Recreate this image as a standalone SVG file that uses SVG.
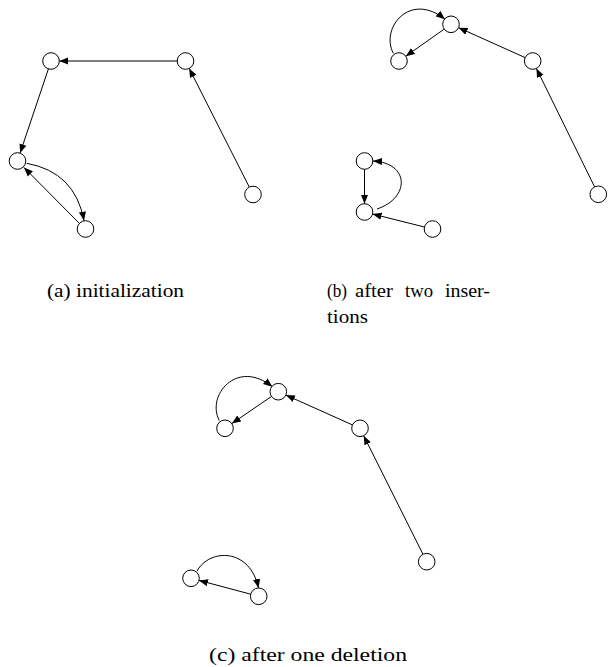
<svg xmlns="http://www.w3.org/2000/svg" width="608" height="667" viewBox="0 0 608 667">
<style>
.node circle{fill:#fff;stroke:#000;stroke-width:1}
.edge{fill:none;stroke:#000;stroke-width:1;marker-end:url(#arr)}
.cap{font-family:"Liberation Serif","Times New Roman",serif;font-size:19px;fill:#000}
</style>
<defs>
<marker id="arr" viewBox="0 0 10 8" refX="10" refY="4" markerWidth="9" markerHeight="8" orient="auto" markerUnits="userSpaceOnUse">
<path d="M0,0 L10,4 L0,8 z" fill="#000"/>
</marker>
</defs>
<rect width="608" height="667" fill="#fff"/>
<g id="connectors">
<!-- panel a -->
<path class="edge" d="M177.2,61 L59.3,61"/>
<path class="edge" d="M48.4,68.9 L20.1,153.1"/>
<path class="edge" d="M249.3,187.1 L189.2,68.4"/>
<path class="edge" d="M79.5,223.5 L24,167.5"/>
<path class="edge" d="M26.7,163.3 Q75,172 84,220.7"/>
<!-- panel b -->
<path class="edge" d="M525.1,57.6 L458.6,27.7"/>
<path class="edge" d="M594.6,186.9 L536.4,68.4"/>
<path class="edge" d="M444.2,29.1 L405.8,56.2"/>
<path class="edge" d="M393.3,53.3 C380,28 410,-9 445,19.3"/>
<path class="edge" d="M364.5,169.3 L364.5,203.7"/>
<path class="edge" d="M377,209 C410,198 410,163 373,161"/>
<path class="edge" d="M424.4,227 L372.6,214"/>
<!-- panel c -->
<path class="edge" d="M352.4,424.9 L285.9,395.1"/>
<path class="edge" d="M423,554.3 L363.7,435.7"/>
<path class="edge" d="M271.5,396.4 L231.8,423.6"/>
<path class="edge" d="M219.3,420.6 C206,395.3 237,358.4 272.3,386.7"/>
<path class="edge" d="M250.7,594.2 L199,580.4"/>
<path class="edge" d="M197,571 C210,548 250,548 258.5,588"/>
</g>
<g id="a1" class="node"><circle cx="51" cy="61" r="8.3"/></g>
<g id="a2" class="node"><circle cx="185.5" cy="61" r="8.3"/></g>
<g id="a3" class="node"><circle cx="17.5" cy="161" r="8.3"/></g>
<g id="a4" class="node"><circle cx="85.5" cy="229" r="8.3"/></g>
<g id="a5" class="node"><circle cx="253" cy="194.5" r="8.3"/></g>
<g id="b1" class="node"><circle cx="451" cy="24.3" r="8.3"/></g>
<g id="b2" class="node"><circle cx="399" cy="61" r="8.3"/></g>
<g id="b3" class="node"><circle cx="532.7" cy="61" r="8.3"/></g>
<g id="b4" class="node"><circle cx="598.3" cy="194.3" r="8.3"/></g>
<g id="b5" class="node"><circle cx="364.5" cy="161" r="8.3"/></g>
<g id="b6" class="node"><circle cx="364.5" cy="212" r="8.3"/></g>
<g id="b7" class="node"><circle cx="432.5" cy="229" r="8.3"/></g>
<g id="c1" class="node"><circle cx="278.3" cy="391.7" r="8.3"/></g>
<g id="c2" class="node"><circle cx="225" cy="428.3" r="8.3"/></g>
<g id="c3" class="node"><circle cx="360" cy="428.3" r="8.3"/></g>
<g id="c4" class="node"><circle cx="426.7" cy="561.7" r="8.3"/></g>
<g id="c5" class="node"><circle cx="191" cy="578.3" r="8.3"/></g>
<g id="c6" class="node"><circle cx="258.7" cy="596.3" r="8.3"/></g>
<g id="captions">
<text class="cap" x="47" y="297" textLength="137" lengthAdjust="spacingAndGlyphs">(a) initialization</text>
<text class="cap" y="297"><tspan x="327" textLength="20" lengthAdjust="spacingAndGlyphs">(b)</tspan> <tspan x="355" textLength="38" lengthAdjust="spacingAndGlyphs">after</tspan> <tspan x="405" textLength="28" lengthAdjust="spacingAndGlyphs">two</tspan> <tspan x="445" textLength="45" lengthAdjust="spacingAndGlyphs">inser-</tspan></text>
<text class="cap" x="327" y="323" textLength="41" lengthAdjust="spacingAndGlyphs">tions</text>
<text class="cap" x="209" y="661" textLength="198" lengthAdjust="spacingAndGlyphs">(c) after one deletion</text>
</g>
</svg>
